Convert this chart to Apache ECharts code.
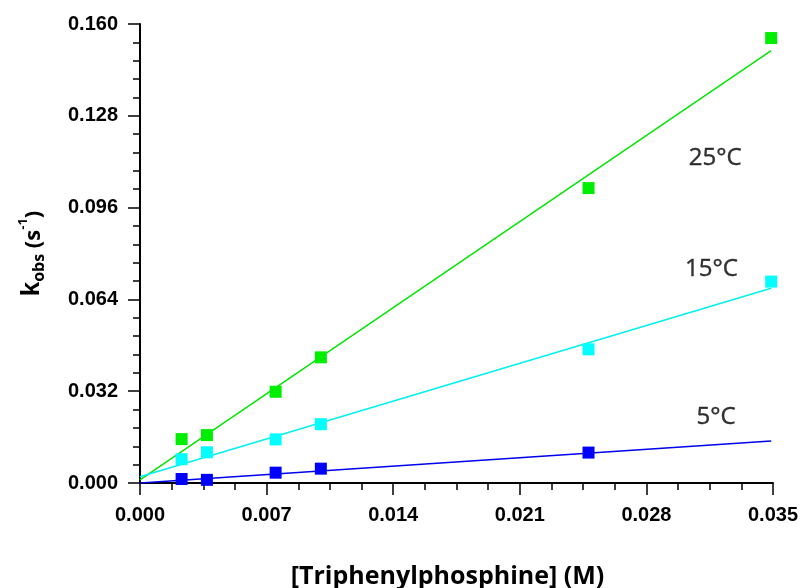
<!DOCTYPE html>
<html>
<head>
<meta charset="utf-8">
<script src="https://cdn.jsdelivr.net/npm/echarts@6/dist/echarts.min.js"></script>
<style>html,body{margin:0;padding:0;background:#fff}#c{width:803px;height:588px}</style>
</head>
<body>
<div id="c"></div>
<script>
// concentrations (M)
const conc = [0.0023, 0.0037, 0.0075, 0.0100, 0.0248, 0.0349];
// observed rate constants (s^-1)
const k25 = [0.0153, 0.0167, 0.0318, 0.0438, 0.1028, 0.1551];
const k15 = [0.0083, 0.0107, 0.0152, 0.0205, 0.0466, 0.0702];
const k5  = [0.0014, 0.0011, 0.0036, 0.0050, 0.0106];
// linear fits: [x, y] endpoints
const fitX = [0, 0.0349];
const fit25 = [0.0011, 0.1507];
const fit15 = [0.0022, 0.0679];
const fit5  = [0.0000, 0.0146];
// temperature labels [x, y, text]
const tempLabels = [[0.0318, 0.1133, '25°C'], [0.0316, 0.0745, '15°C'], [0.03185, 0.0230, '5°C']];
const yTicks = {min: 0, max: 0.160, interval: 0.032};
const xTicks = {min: 0, max: 0.035, interval: 0.007};

const pts = (xs, ys) => ys.map((y, i) => [xs[i], y]);
const fit = (ys) => ys.map((y, i) => [fitX[i], y]);

const GREEN = '#00e600', CYAN = '#00f0f0', BLUE = '#0000ee';
const chart = echarts.init(document.getElementById('c'));
const axisCommon = {
  axisLine: {show: true, lineStyle: {color: '#000', width: 2}},
  axisTick: {show: true, inside: false, length: 12, lineStyle: {color: '#000', width: 1.5}},
  minorTick: {show: true, length: 7, lineStyle: {color: '#000', width: 1.5}},
  splitLine: {show: false},
  axisLabel: {color: '#000', fontFamily: 'Liberation Sans, Arial', fontWeight: 'bold', fontSize: 20, formatter: v => v.toFixed(3)}
};
chart.setOption({
  animation: false,
  grid: {left: 140, right: 30, top: 24, bottom: 105, containLabel: false, outerBoundsMode: 'none'},
  xAxis: Object.assign({}, axisCommon, {
    type: 'value', min: xTicks.min, max: xTicks.max, interval: xTicks.interval,
    minorTick: Object.assign({}, axisCommon.minorTick, {splitNumber: 4}),
    axisLabel: Object.assign({}, axisCommon.axisLabel, {margin: 22}),
    name: '[Triphenylphosphine] (M)', nameLocation: 'middle', nameGap: 81,
    nameTextStyle: {color: '#000', fontFamily: 'Open Sans', fontWeight: 'bold', fontSize: 25, padding: [0, 18, 0, 0]}
  }),
  yAxis: Object.assign({}, axisCommon, {
    type: 'value', min: yTicks.min, max: yTicks.max, interval: yTicks.interval,
    minorTick: Object.assign({}, axisCommon.minorTick, {splitNumber: 5}),
    axisLabel: Object.assign({}, axisCommon.axisLabel, {margin: 22}),
    name: '{k|k}{sub|obs}{t| (s}{sup|-1}{t|)}', nameLocation: 'middle', nameGap: 95,
    nameTextStyle: {
      color: '#000', fontFamily: 'Liberation Sans, Arial', fontWeight: 'bold',
      rich: {
        k: {fontSize: 26, fontWeight: 'bold', fontFamily: 'Liberation Sans', lineHeight: 30, verticalAlign: 'bottom'},
        sub: {fontSize: 16, fontWeight: 'bold', fontFamily: 'Open Sans', lineHeight: 30, verticalAlign: 'bottom', padding: [0, 0, -2, 0]},
        t: {fontSize: 22, fontWeight: 'bold', fontFamily: 'Open Sans', lineHeight: 30, verticalAlign: 'bottom'},
        sup: {fontSize: 13, fontWeight: 'bold', fontFamily: 'Open Sans', lineHeight: 30, verticalAlign: 'top', padding: [2, 0, 0, 0]}
      }
    }
  }),
  series: [
    {type: 'line', data: fit(fit25), symbol: 'none', lineStyle: {color: GREEN, width: 1.5}, z: 2},
    {type: 'line', data: fit(fit15), symbol: 'none', lineStyle: {color: CYAN, width: 1.5}, z: 2},
    {type: 'line', data: fit(fit5), symbol: 'none', lineStyle: {color: BLUE, width: 1.5}, z: 2},
    {type: 'scatter', data: pts(conc, k25), symbol: 'rect', symbolSize: 12, itemStyle: {color: '#00ee00', opacity: 1}, z: 3},
    {type: 'scatter', data: pts(conc, k15), symbol: 'rect', symbolSize: 12, itemStyle: {color: '#00ffff', opacity: 1}, z: 3},
    {type: 'scatter', data: pts(conc, k5), symbol: 'rect', symbolSize: 12, itemStyle: {color: '#0000ff', opacity: 1}, z: 3},
    {type: 'scatter', data: tempLabels, symbolSize: 1, itemStyle: {color: 'rgba(0,0,0,0)'}, silent: true, z: 4,
     label: {show: true, position: 'inside', formatter: p => p.data[2], color: '#000', textBorderColor: '#000', textBorderWidth: 0.4, fontFamily: 'Open Sans', fontSize: 24}}
  ]
});
</script>
</body>
</html>
